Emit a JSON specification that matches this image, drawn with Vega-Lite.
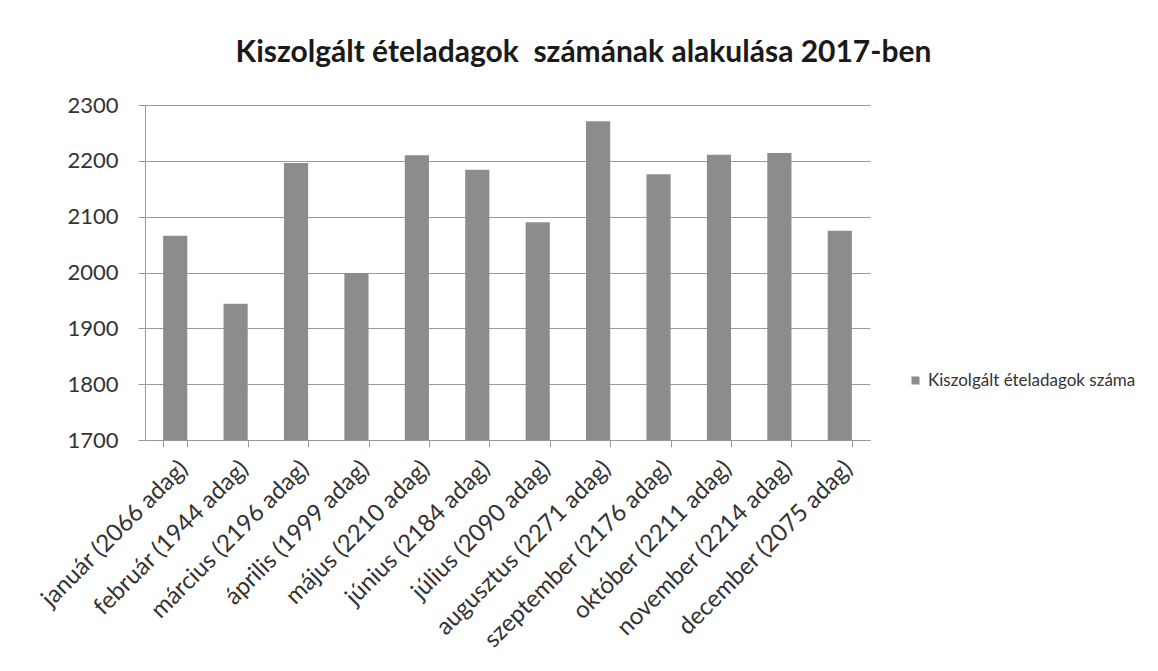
{
  "$schema": "https://vega.github.io/schema/vega-lite/v6.json",
  "width": 725,
  "height": 335,
  "autosize": {"type": "none"},
  "padding": {"left": 145, "top": 105, "right": 288, "bottom": 231},
  "background": "white",
  "title": {
    "text": "Kiszolgált ételadagok\u00a0 számának alakulása 2017-ben",
    "font": "Lato, sans-serif",
    "fontSize": 30,
    "fontWeight": "bold",
    "color": "#1a1a1a",
    "anchor": "middle",
    "dx": 76,
    "offset": 26
  },
  "data": {
    "values": [
      {"honap": "január (2066 adag)", "ertek": 2066, "sorozat": "Kiszolgált ételadagok száma"},
      {"honap": "február (1944 adag)", "ertek": 1944, "sorozat": "Kiszolgált ételadagok száma"},
      {"honap": "március (2196 adag)", "ertek": 2196, "sorozat": "Kiszolgált ételadagok száma"},
      {"honap": "április (1999 adag)", "ertek": 1999, "sorozat": "Kiszolgált ételadagok száma"},
      {"honap": "május (2210 adag)", "ertek": 2210, "sorozat": "Kiszolgált ételadagok száma"},
      {"honap": "június (2184 adag)", "ertek": 2184, "sorozat": "Kiszolgált ételadagok száma"},
      {"honap": "július (2090 adag)", "ertek": 2090, "sorozat": "Kiszolgált ételadagok száma"},
      {"honap": "augusztus (2271 adag)", "ertek": 2271, "sorozat": "Kiszolgált ételadagok száma"},
      {"honap": "szeptember (2176 adag)", "ertek": 2176, "sorozat": "Kiszolgált ételadagok száma"},
      {"honap": "október (2211 adag)", "ertek": 2211, "sorozat": "Kiszolgált ételadagok száma"},
      {"honap": "november (2214 adag)", "ertek": 2214, "sorozat": "Kiszolgált ételadagok száma"},
      {"honap": "december (2075 adag)", "ertek": 2075, "sorozat": "Kiszolgált ételadagok száma"}
    ]
  },
  "mark": {"type": "bar", "clip": true},
  "encoding": {
    "x": {
      "field": "honap",
      "type": "nominal",
      "sort": null,
      "scale": {"paddingInner": 0.6, "paddingOuter": 0.3},
      "axis": {
        "title": null,
        "labelAngle": -45,
        "labelFontSize": 24,
        "labelFont": "Lato, sans-serif",
        "labelColor": "#333333",
        "labelPadding": 9,
        "tickBand": "extent",
        "tickSize": 7,
        "tickColor": "#999999",
        "domainColor": "#999999",
        "labelLimit": 400
      }
    },
    "y": {
      "field": "ertek",
      "type": "quantitative",
      "scale": {"domain": [1700, 2300], "zero": false, "nice": false},
      "axis": {
        "title": null,
        "values": [1700, 1800, 1900, 2000, 2100, 2200, 2300],
        "format": "d",
        "labelFontSize": 22,
        "labelFont": "Lato, sans-serif",
        "labelColor": "#333333",
        "labelPadding": 20,
        "tickSize": 7,
        "tickColor": "#999999",
        "domainColor": "#999999",
        "grid": true,
        "gridColor": "#9a9a9a",
        "gridWidth": 1.2
      }
    },
    "color": {
      "field": "sorozat",
      "type": "nominal",
      "scale": {"range": ["#8c8c8c"]},
      "legend": {
        "title": null,
        "orient": "none",
        "legendX": 762,
        "legendY": 267,
        "symbolType": "square",
        "symbolSize": 64,
        "labelFontSize": 17,
        "labelFont": "Lato, sans-serif",
        "labelColor": "#333333",
        "labelLimit": 400
      }
    }
  },
  "config": {
    "view": {"stroke": null}
  }
}
